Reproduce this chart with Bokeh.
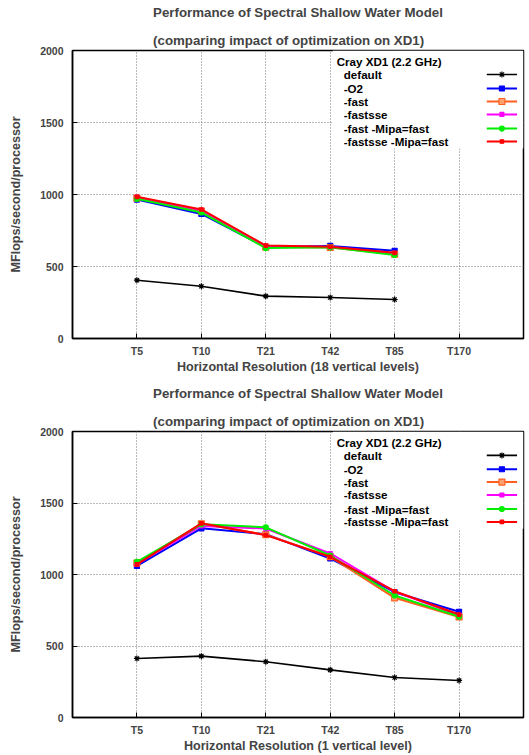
from bokeh.plotting import figure
from bokeh.layouts import column
from bokeh.models import Range1d, FixedTicker, Title
from bokeh.embed import file_html
from bokeh.resources import INLINE
from bokeh.core.properties import value

FONT = "Liberation Sans"

title_lines = ["Performance of Spectral Shallow Water Model",
               "(comparing impact of optimization on XD1)"]
resolutions = ["T5", "T10", "T21", "T42", "T85", "T170"]
series_names = ["default", "-O2", "-fast", "-fastsse", "-fast -Mipa=fast", "-fastsse -Mipa=fast"]

# MFlops/second/processor, 18 vertical levels (T170 not run)
multi_default = [405, 363, 294, 285, 271]
multi_o2 = [965, 865, 635, 643, 609]
multi_fast = [975, 885, 635, 632, 585]
multi_fastsse = [980, 890, 640, 635, 590]
multi_fast_mipa = [970, 875, 628, 633, 580]
multi_fastsse_mipa = [984, 896, 645, 637, 595]

# MFlops/second/processor, 1 vertical level
single_default = [413, 429, 390, 333, 280, 259]
single_o2 = [1060, 1323, 1282, 1112, 876, 739]
single_fast = [1080, 1355, 1278, 1125, 837, 703]
single_fastsse = [1075, 1340, 1321, 1147, 880, 715]
single_fast_mipa = [1089, 1351, 1330, 1133, 853, 706]
single_fastsse_mipa = [1071, 1358, 1275, 1124, 883, 720]

y_ticks = [0, 500, 1000, 1500, 2000]

styles = [
    dict(color="#000000", marker="asterisk", size=6, fill="#000000", lw=1.6),
    dict(color="#0000ff", marker="square", size=5, fill="#0000ff", lw=2),
    dict(color="#ff6020", marker="square", size=6, fill="#ffa070", lw=2),
    dict(color="#ff00ff", marker="square", size=4, fill="#ff00ff", lw=2),
    dict(color="#00ee00", marker="circle", size=5, fill="#00ee00", lw=2),
    dict(color="#ff0000", marker="square", size=3.5, fill="#ff0000", lw=2),
]


def make_panel(series, xlabel, height, border_top, border_bottom):
    p = figure(width=529, height=height, output_backend="svg", toolbar_location=None,
               title=None, x_range=Range1d(0, 7), y_range=Range1d(0, 2000),
               min_border_left=72, min_border_right=6, min_border_top=border_top,
               min_border_bottom=border_bottom)
    p.background_fill_color = "white"
    p.border_fill_color = "white"
    p.outline_line_color = "black"
    p.outline_line_width = 1.5

    heading = Title(text="\n".join(title_lines), align="center",
                    text_font=FONT, text_font_size="13.3px", text_font_style="bold",
                    text_line_height=1.84, standoff=5)
    p.add_layout(heading, "above")

    xa = p.xaxis[0]
    xa.ticker = FixedTicker(ticks=list(range(1, len(resolutions) + 1)))
    xa.major_label_overrides = {i + 1: r for i, r in enumerate(resolutions)}
    xa.axis_label = xlabel
    ya = p.yaxis[0]
    ya.ticker = FixedTicker(ticks=y_ticks)
    ya.axis_label = "MFlops/second/processor"
    for ax in (xa, ya):
        ax.major_tick_in = 5
        ax.major_tick_out = 0
        ax.minor_tick_line_color = None
        ax.axis_line_color = "black"
        ax.axis_line_width = 1.5
        ax.major_label_text_font = FONT
        ax.major_label_text_font_style = "bold"
        ax.major_label_text_font_size = "10.5px"
        ax.axis_label_text_font = FONT
        ax.axis_label_text_font_style = "bold"
        ax.axis_label_text_font_size = "12.6px"
    xa.major_label_standoff = 6
    xa.axis_label_standoff = 0
    ya.major_label_standoff = 9
    ya.axis_label_standoff = 14

    for g in (p.xgrid[0], p.ygrid[0]):
        g.grid_line_color = "#777777"
        g.grid_line_dash = "1 2"
        g.grid_line_width = 1
    p.ygrid[0].ticker = FixedTicker(ticks=y_ticks)

    # legend backdrop and entries (text left, sample line right)
    p.quad(left=[4.04], right=[7.0], bottom=[1320], top=[2000],
           fill_color="white", line_color=None)
    p.text(x=[4.10], y=[1924], text=["Cray XD1 (2.2 GHz)"],
           text_font=value(FONT), text_font_style="bold", text_font_size="11.6px",
           text_baseline="middle", text_align="left")
    legend_y = [1833, 1736, 1646, 1556, 1458, 1368]

    for name, vals, st, ly in zip(series_names, series, styles, legend_y):
        xs = list(range(1, len(vals) + 1))
        p.line(xs, vals, line_color=st["color"], line_width=st["lw"])
        p.scatter(xs, vals, marker=st["marker"], size=st["size"],
                  line_color=st["color"], fill_color=st["fill"], line_width=1.2)
        p.text(x=[4.21], y=[ly], text=[name], text_font=value(FONT),
               text_font_style="bold", text_font_size="11.6px",
               text_baseline="middle", text_align="left")
        p.segment(x0=[6.43], y0=[ly], x1=[6.90], y1=[ly],
                  line_color=st["color"], line_width=st["lw"])
        p.scatter([6.665], [ly], marker=st["marker"], size=st["size"],
                  line_color=st["color"], fill_color=st["fill"], line_width=1.2)
    return p


top = make_panel([multi_default, multi_o2, multi_fast, multi_fastsse,
                  multi_fast_mipa, multi_fastsse_mipa],
                 "Horizontal Resolution (18 vertical levels)", 377, 50, 39)
bottom = make_panel([single_default, single_o2, single_fast, single_fastsse,
                     single_fast_mipa, single_fastsse_mipa],
                    "Horizontal Resolution (1 vertical level)", 378, 54, 36)

layout = column(top, bottom, spacing=0)
open("out.html", "w").write(file_html(layout, INLINE))
